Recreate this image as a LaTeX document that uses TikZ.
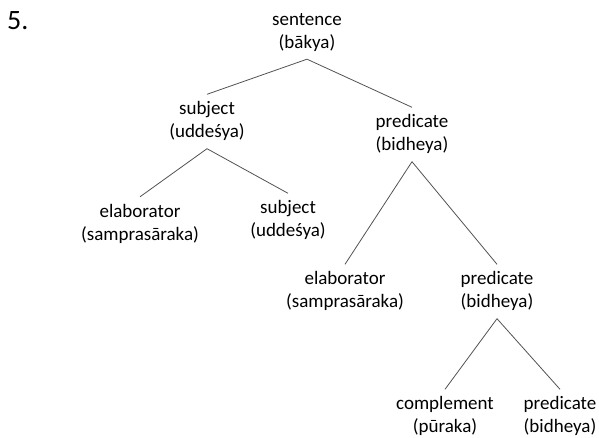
\documentclass[tikz,border=0pt]{standalone}
\usepackage{fontspec}
\setmainfont{Carlito}
\begin{document}
\begin{tikzpicture}[x=1pt,y=-1pt,
  lab/.style={align=center,inner xsep=2pt,inner ysep=4pt,
    font=\fontsize{19}{23}\selectfont},
  edge/.style={draw=black!68,line width=0.8pt}]
\useasboundingbox (0,0) rectangle (599,438);
\newcommand\tl[2]{\strut #1\\\strut #2}
\node[anchor=base west,inner sep=0pt,font=\fontsize{28}{32}\selectfont] (num) at (7,30) {5.};
\node[lab] (s)  at (307,32)    {\tl{sentence}{(bākya)}};
\node[lab] (su1) at (207,121.5) {\tl{subject}{(uddeśya)}};
\node[lab] (p1) at (412,134.5) {\tl{predicate}{(bidheya)}};
\node[lab] (e1) at (140,224)   {\tl{elaborator}{(samprasāraka)}};
\node[lab] (su2) at (288,220.5) {\tl{subject}{(uddeśya)}};
\node[lab] (e2) at (345,291.5) {\tl{elaborator}{(samprasāraka)}};
\node[lab] (p2) at (497,291.5) {\tl{predicate}{(bidheya)}};
\node[lab] (c)  at (445,416.5) {\tl{complement}{(pūraka)}};
\node[lab] (p3) at (560,416.5) {\tl{predicate}{(bidheya)}};
\draw[edge] (s.south) -- (su1.north);
\draw[edge] (s.south) -- (p1.north);
\draw[edge] (su1.south) -- (e1.north);
\draw[edge] (su1.south) -- (su2.north);
\draw[edge] (p1.south) -- (e2.north);
\draw[edge] (p1.south) -- (p2.north);
\draw[edge] (p2.south) -- (c.north);
\draw[edge] (p2.south) -- (p3.north);
\end{tikzpicture}
\end{document}
